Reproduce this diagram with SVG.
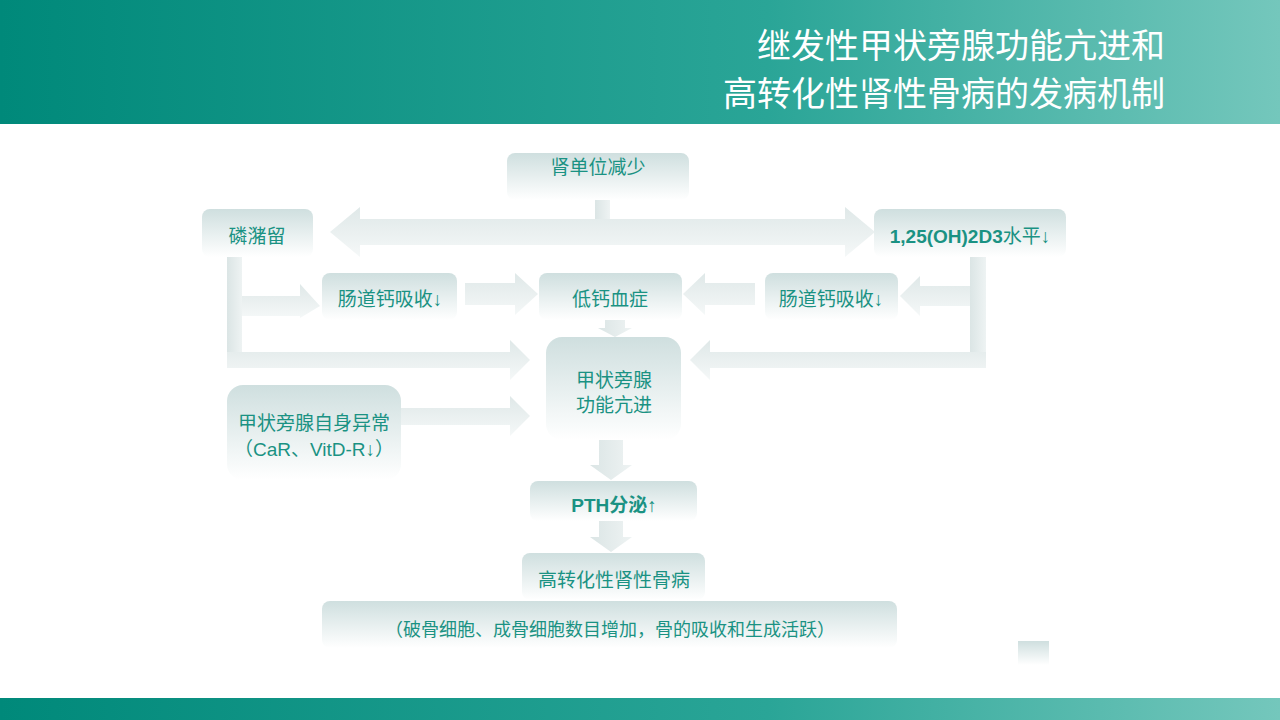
<svg xmlns="http://www.w3.org/2000/svg" width="1280" height="720" viewBox="0 0 1280 720">
<defs>
<linearGradient id="hdr" x1="0" y1="0" x2="1" y2="0"><stop offset="0" stop-color="#00897a"/><stop offset="0.6" stop-color="#2aa597"/><stop offset="1" stop-color="#74c7bc"/></linearGradient>
<linearGradient id="box" x1="0" y1="0" x2="0" y2="1"><stop offset="0" stop-color="#cfdfdf"/><stop offset="1" stop-color="#ffffff"/></linearGradient>
<linearGradient id="arrH" x1="0" y1="0" x2="0" y2="1"><stop offset="0" stop-color="#dfe8e8"/><stop offset="1" stop-color="#f5f8f8"/></linearGradient>
<linearGradient id="arrV" x1="0" y1="0" x2="1" y2="0"><stop offset="0" stop-color="#dbe5e5"/><stop offset="1" stop-color="#eef3f3"/></linearGradient>
</defs>
<style>
.b{fill:url(#box)}
.a{fill:url(#arrH)}
.v{fill:url(#arrV)}
text{font-family:"Liberation Sans","Noto Sans CJK SC",sans-serif;fill:#1a9283;font-size:19px;text-anchor:middle}
.bd{font-weight:bold}
.t{fill:#ffffff;font-size:34px;text-anchor:end}
</style>
<rect width="1280" height="720" fill="#ffffff"/>
<rect x="0" y="0" width="1280" height="124" fill="url(#hdr)"/>
<rect x="0" y="698" width="1280" height="22" fill="url(#hdr)"/>
<text class="t" x="1165" y="58">继发性甲状旁腺功能亢进和</text>
<text class="t" x="1165" y="106">高转化性肾性骨病的发病机制</text>
<g id="connectors">
<rect class="v" x="595" y="200" width="15" height="42"/>
<polygon class="a" points="330,232 360,207 360,219 845,219 845,207 875,232 845,257 845,245 360,245 360,257"/>
<rect class="v" x="227" y="257" width="15" height="111"/>
<polygon class="a" points="242,296 300,296 300,284 320,306 300,318 300,316 242,316"/>
<polygon class="a" points="227,352 510,352 510,340 530,360 510,380 510,368 227,368"/>
<polygon class="a" points="465,283 515,283 515,273 538,294 515,315 515,305 465,305"/>
<polygon class="a" points="755,283 705,283 705,273 683,294 705,315 705,305 755,305"/>
<rect class="v" x="970" y="250" width="16" height="118"/>
<polygon class="a" points="970,286 920,286 920,276 900,296 920,316 920,306 970,306"/>
<polygon class="a" points="986,352 710,352 710,340 690,360 710,380 710,368 986,368"/>
<polygon class="v" points="605,320 625,320 625,328 632,328 615,337 598,328 605,328"/>
<polygon class="a" points="401,408 510,408 510,396 530,416 510,436 510,425 401,425"/>
<polygon class="v" points="599,440 623,440 623,465 632,465 611,480 590,465 599,465"/>
<polygon class="v" points="599,521 623,521 623,537 632,537 611,552 590,537 599,537"/>
</g>
<g id="n1"><rect class="b" x="507" y="153" width="182" height="47" rx="8"/><text x="598" y="174">肾单位减少</text></g>
<g id="n2"><rect class="b" x="202" y="209" width="111" height="48" rx="8"/><text x="257" y="243">磷潴留</text></g>
<g id="n3"><rect class="b" x="874" y="209" width="192" height="48" rx="8"/><text class="bd" x="970" y="243">1,25(OH)2D3<tspan font-weight="normal">水平↓</tspan></text></g>
<g id="n4"><rect class="b" x="322" y="273" width="135" height="47" rx="8"/><text x="390" y="306">肠道钙吸收↓</text></g>
<g id="n5"><rect class="b" x="539" y="273" width="143" height="47" rx="8"/><text x="610" y="306">低钙血症</text></g>
<g id="n6"><rect class="b" x="765" y="273" width="133" height="47" rx="8"/><text x="831" y="306">肠道钙吸收↓</text></g>
<g id="n7"><rect class="b" x="546" y="337" width="135" height="103" rx="16"/><text x="614" y="387">甲状旁腺</text><text x="614" y="412">功能亢进</text></g>
<g id="n8"><rect class="b" x="227" y="385" width="174" height="95" rx="16"/><text x="314" y="430">甲状旁腺自身异常</text><text x="314" y="456">（CaR、VitD-R↓）</text></g>
<g id="n9"><rect class="b" x="530" y="481" width="167" height="40" rx="8"/><text class="bd" x="614" y="512">PTH分泌↑</text></g>
<g id="n10"><rect class="b" x="522" y="553" width="183" height="47" rx="8"/><text x="614" y="587">高转化性肾性骨病</text></g>
<g id="n11"><rect class="b" x="322" y="601" width="575" height="47" rx="8"/><text x="610" y="636" style="font-size:18px">（破骨细胞、成骨细胞数目增加，骨的吸收和生成活跃）</text></g>
<rect x="1018" y="641" width="31" height="24" fill="url(#box)"/>
</svg>
